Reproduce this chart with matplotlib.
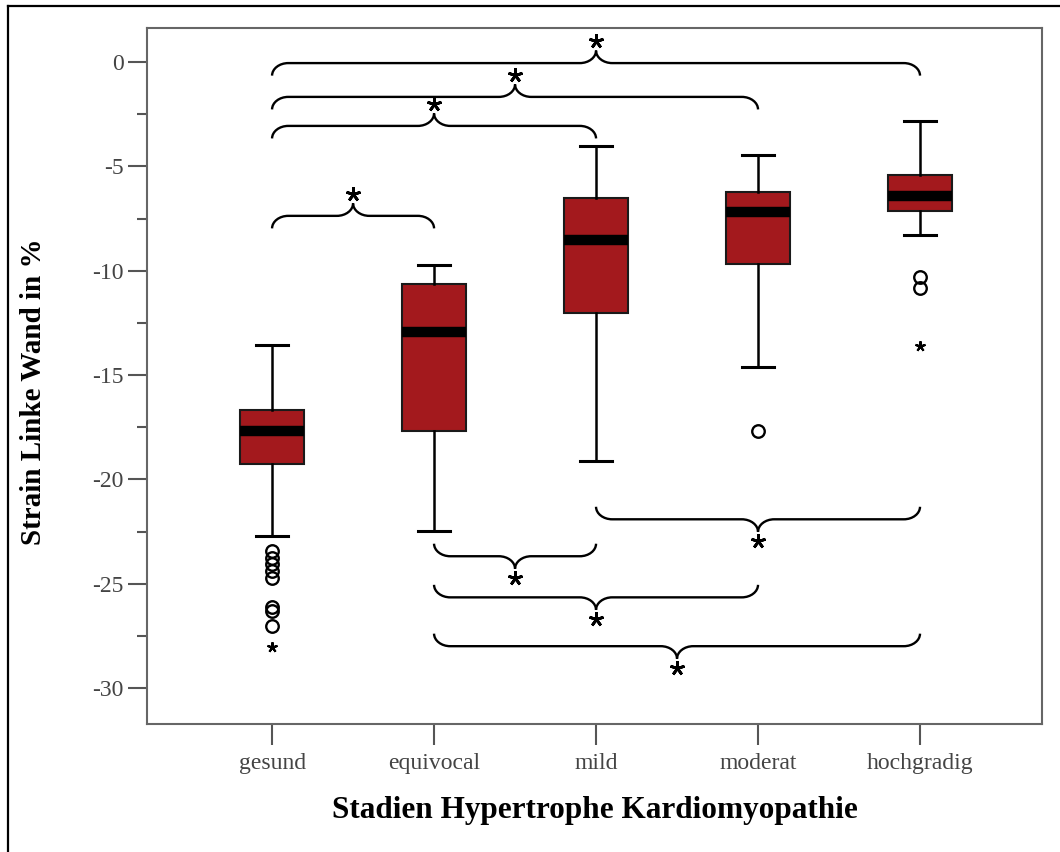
import matplotlib
matplotlib.use('Agg')
import matplotlib.pyplot as plt
from matplotlib.path import Path
from matplotlib.patches import PathPatch
from matplotlib.lines import Line2D

plt.rcParams['font.family'] = ['Liberation Serif', 'DejaVu Serif']
plt.rcParams['axes.unicode_minus'] = False

# Daten
categories = ['gesund', 'equivocal', 'mild', 'moderat', 'hochgradig']
whisker_hi = [-13.54, -9.71, -4.02, -4.45, -2.82]
q3 = [-16.68, -10.62, -6.51, -6.22, -5.41]
median = [-17.70, -12.92, -8.52, -7.18, -6.41]
q1 = [-19.28, -17.66, -12.01, -9.67, -7.13]
whisker_lo = [-22.71, -22.49, -19.14, -14.59, -8.28]
outliers = [[-23.43, -23.75, -24.07, -24.39, -24.70, -26.1, -26.3, -27.02], [], [], [-17.70], [-10.30, -10.85]]
extremes = [[-28.05], [], [], [], [-13.60]]

# Signifikanz-Klammern: (von, bis), Hoehe
sig_top = [(1, 2), (1, 3), (1, 4), (1, 5)]
sig_top_y = [-7.37, -3.06, -1.67, -0.05]
sig_bottom = [(3, 5), (2, 3), (2, 4), (2, 5)]
sig_bottom_y = [-21.91, -23.68, -25.65, -27.99]

fig = plt.figure(figsize=(10.6, 8.52), dpi=100)
ax = fig.add_axes([0.1387, 0.1502, 0.8443, 0.8169])

positions = list(range(1, len(categories) + 1))
stats = []
for i in range(len(categories)):
    stats.append(dict(med=median[i], q1=q1[i], q3=q3[i], whislo=whisker_lo[i],
                      whishi=whisker_hi[i], fliers=outliers[i]))

ax.bxp(stats, positions=positions, widths=0.395, capwidths=0.2, patch_artist=True,
       boxprops=dict(facecolor='#a3191d', edgecolor='#1a1a1a', linewidth=1.5),
       medianprops=dict(color='black', linewidth=7.5, solid_capstyle='butt'),
       whiskerprops=dict(color='black', linewidth=1.8),
       capprops=dict(color='black', linewidth=2.2),
       flierprops=dict(marker='o', markerfacecolor='none', markeredgecolor='black',
                       markersize=9, markeredgewidth=1.7))

for i, ext in enumerate(extremes):
    if ext:
        ax.plot([positions[i]] * len(ext), ext, ls='none', marker=(5, 2, 0),
                color='black', markersize=7.5, markeredgewidth=1.5)


def brace(x0, x1, y, d, rx=0.1, h=0.6):
    xm = (x0 + x1) / 2.0
    k = 0.55
    verts = [(x0, y - d * h), (x0, y - d * h * (1 - k)), (x0 + rx * (1 - k), y), (x0 + rx, y),
             (xm - rx, y),
             (xm - rx * 0.45, y), (xm, y + d * h * 0.45), (xm, y + d * h),
             (xm, y + d * h * 0.45), (xm + rx * 0.45, y), (xm + rx, y),
             (x1 - rx, y),
             (x1 - rx * (1 - k), y), (x1, y - d * h * (1 - k)), (x1, y - d * h)]
    codes = [Path.MOVETO] + [Path.CURVE4] * 3 + [Path.LINETO] + [Path.CURVE4] * 6 + \
            [Path.LINETO] + [Path.CURVE4] * 3
    ax.add_patch(PathPatch(Path(verts, codes), facecolor='none', edgecolor='black',
                           linewidth=1.7, clip_on=False))
    ax.plot([xm], [y + d * (h + 0.45)], ls='none', marker=(5, 2, 0), color='black',
            markersize=10.5, markeredgewidth=2.0, clip_on=False)


for (a, b), yy in zip(sig_top, sig_top_y):
    brace(a, b, yy, 1)
for (a, b), yy in zip(sig_bottom, sig_bottom_y):
    brace(a, b, yy, -1)

ax.set_xlim(0.228, 5.753)
ax.set_ylim(-31.72, 1.63)
ax.set_xticks(positions)
ax.set_xticklabels(categories)
ax.set_yticks([0, -5, -10, -15, -20, -25, -30])
ax.set_yticks([-2.5, -7.5, -12.5, -17.5, -22.5, -27.5], minor=True)

ax.tick_params(axis='y', which='major', length=13.7, width=1.5, color='#555555',
               labelsize=17, labelcolor='#444444', pad=3)
ax.tick_params(axis='y', which='minor', length=7, width=1.5, color='#555555')
ax.tick_params(axis='x', which='major', length=15, width=1.5, color='#555555',
               labelsize=17, labelcolor='#444444', pad=6)

for sp in ax.spines.values():
    sp.set_color('#666666')
    sp.set_linewidth(1.5)

ax.set_ylabel('Strain Linke Wand in %', fontsize=21, fontweight='bold')
ax.yaxis.set_label_coords(-0.127, 0.478)
ax.yaxis.label.set_verticalalignment('center')
ax.set_xlabel('Stadien Hypertrophe Kardiomyopathie', fontsize=22.5, fontweight='bold')
ax.xaxis.set_label_coords(0.5, -0.1236)
ax.xaxis.label.set_verticalalignment('center')

# Rahmen links und oben
fig.add_artist(Line2D([8 / 1060, 8 / 1060], [0, 1 - 6 / 852], transform=fig.transFigure,
                      color='black', linewidth=1.6))
fig.add_artist(Line2D([8 / 1060, 1], [1 - 6 / 852, 1 - 6 / 852], transform=fig.transFigure,
                      color='black', linewidth=1.6))

fig.savefig('out.png', dpi=100)
